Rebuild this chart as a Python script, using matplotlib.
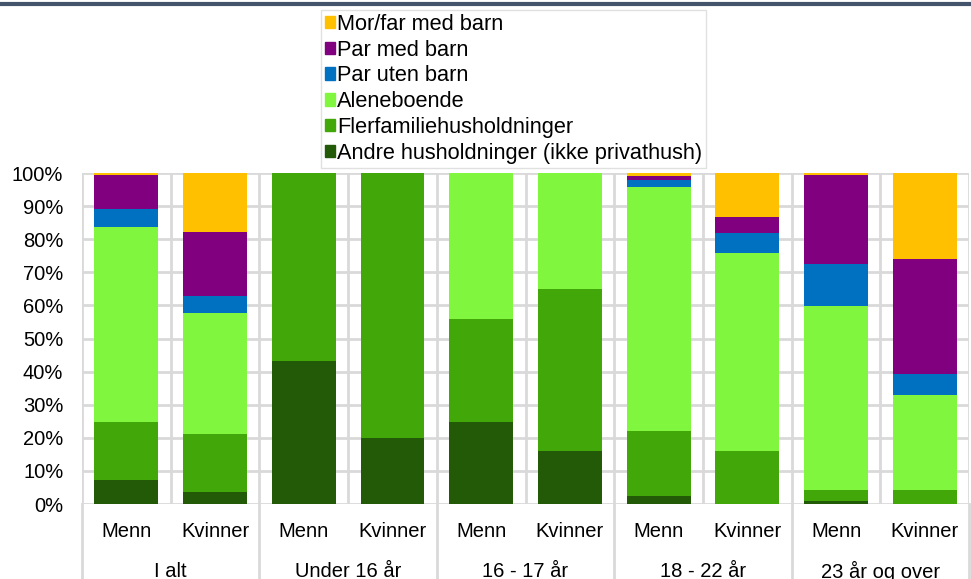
import numpy as np
import matplotlib.pyplot as plt
from matplotlib.patches import Patch
from matplotlib.lines import Line2D

plt.rcParams['font.family'] = ['Liberation Sans', 'DejaVu Sans']

# categories
sexes = ['Menn', 'Kvinner'] * 5
groups = ['I alt', 'Under 16 år', '16 - 17 år', '18 - 22 år', '23 år og over']

# shares in percent, one value per bar (order: I alt M/K, <16 M/K, 16-17 M/K, 18-22 M/K, 23+ M/K)
andre = [7.2, 3.6, 43.1, 20.0, 24.7, 15.9, 2.5, 0.0, 0.9, 0.0]
flerfamilie = [17.7, 17.7, 56.9, 80.0, 31.3, 49.0, 19.7, 16.1, 3.4, 4.3]
aleneboende = [58.8, 36.5, 0.0, 0.0, 44.0, 35.1, 73.6, 59.8, 55.4, 28.7]
par_uten_barn = [5.4, 5.0, 0.0, 0.0, 0.0, 0.0, 2.0, 6.0, 12.9, 6.4]
par_med_barn = [10.2, 19.3, 0.0, 0.0, 0.0, 0.0, 1.4, 4.8, 26.7, 34.6]
morfar_med_barn = [0.7, 17.9, 0.0, 0.0, 0.0, 0.0, 0.8, 13.3, 0.7, 26.0]

series = [
    ('Andre husholdninger (ikke privathush)', andre, '#235A08'),
    ('Flerfamiliehusholdninger', flerfamilie, '#42A80A'),
    ('Aleneboende', aleneboende, '#81F63F'),
    ('Par uten barn', par_uten_barn, '#0070C0'),
    ('Par med barn', par_med_barn, '#800080'),
    ('Mor/far med barn', morfar_med_barn, '#FFC000'),
]

grid_col = '#D9D9D9'
fs = 14.5

fig = plt.figure(figsize=(9.71, 5.79), dpi=100)
ax = fig.add_axes([0.0845, 0.1295, 0.9135, 0.5715])

x = np.arange(len(sexes))
bottom = np.zeros(len(sexes))
for name, vals, col in series:
    v = np.array(vals) / 100
    ax.bar(x, v, 0.72, bottom=bottom, color=col, label=name, zorder=3)
    bottom += v

ax.set_xlim(-0.5, len(sexes) - 0.5)
ax.set_ylim(0, 1)
ticks = np.arange(0, 1.01, 0.1)
ax.set_yticks(ticks)
ax.set_yticklabels([f'{int(round(t * 100))}%' for t in ticks], fontsize=fs)
ax.tick_params(axis='y', length=0, pad=13.5)
ax.set_xticks([])
for s in ax.spines.values():
    s.set_visible(False)

# grid
for t in ticks:
    ax.axhline(t, color=grid_col, lw=2, zorder=1)
for b in np.arange(-0.5, len(sexes), 1.0):
    ax.axvline(b, color=grid_col, lw=2, zorder=1)

# two-level category axis
trans = ax.get_xaxis_transform()
for b in np.arange(-0.5, len(sexes), 2.0):
    ax.add_line(Line2D([b, b], [0, -0.3], transform=trans, color=grid_col, lw=2, clip_on=False))
for i, s in enumerate(sexes):
    ax.text(i, -0.082, s, transform=trans, ha='center', va='center', fontsize=fs)
for g, name in enumerate(groups):
    ax.text(2 * g + 0.5, -0.205, name, transform=trans, ha='center', va='center', fontsize=fs)

# legend
handles = [Patch(color=col, label=name) for name, vals, col in series[::-1]]
leg = fig.legend(handles=handles, loc='upper left', bbox_to_anchor=(0.3305, 0.983),
                 fontsize=15.7, frameon=True, fancybox=False, edgecolor=grid_col,
                 handlelength=0.45, handleheight=0.5, handletextpad=0.12,
                 labelspacing=0.22, borderpad=0.18, borderaxespad=0)
leg.get_frame().set_linewidth(1)

# top rule
fig.add_artist(Line2D([0, 1], [0.993, 0.993], transform=fig.transFigure, color='#44546A', lw=3))

fig.savefig('out.png', dpi=100)
